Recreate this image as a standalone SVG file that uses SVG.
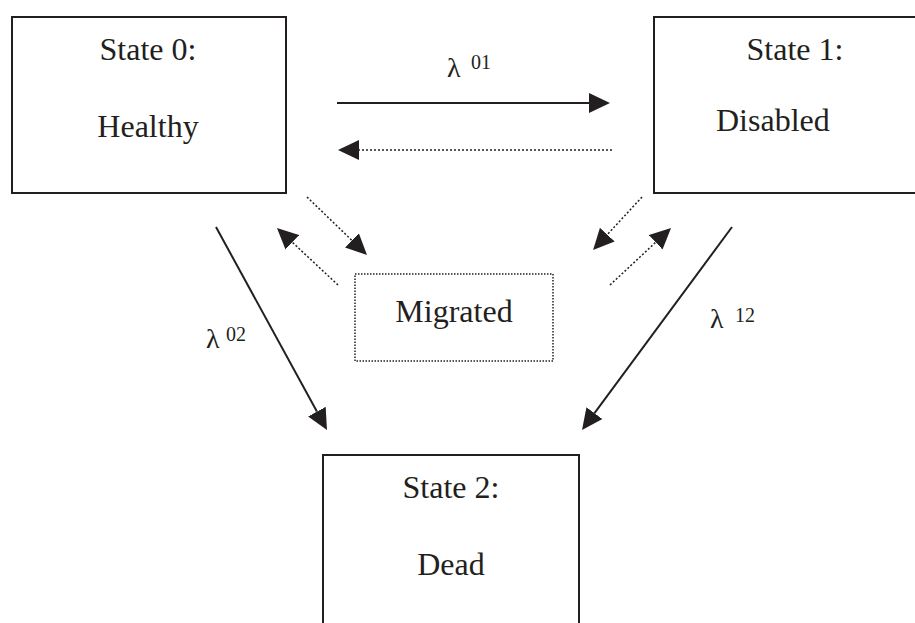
<svg xmlns="http://www.w3.org/2000/svg" width="915" height="623" viewBox="0 0 915 623">
<defs>
<style>
.box{fill:#fff;stroke:#231f20;stroke-width:2}
.mbox{fill:#fff;stroke:#231f20;stroke-width:1.5;stroke-dasharray:1.5 1.5}
.t{font-family:"Liberation Serif","Times New Roman",serif;font-size:32px;fill:#231f20}
.l{font-family:"Liberation Serif","Times New Roman",serif;font-size:28px;fill:#231f20}
.s{font-size:20px}
.solid{stroke:#231f20;stroke-width:2;fill:none;marker-end:url(#ah)}
.dot{stroke:#231f20;stroke-width:1.5;stroke-dasharray:2 2;fill:none;marker-end:url(#ah)}
</style>
<marker id="ah" markerUnits="userSpaceOnUse" markerWidth="22" markerHeight="20" refX="0" refY="10" orient="auto" viewBox="0 0 22 20">
<path d="M0,0 L21,10 L0,20 z" fill="#231f20"/>
</marker>
</defs>
<rect width="915" height="623" fill="#fff"/>
<g id="state0">
<rect class="box" x="12" y="17" width="274" height="176"/>
<text class="t" x="148" y="60" text-anchor="middle">State 0:</text>
<text class="t" x="148" y="137" text-anchor="middle">Healthy</text>
</g>
<g id="state1">
<rect class="box" x="654" y="17" width="280" height="176"/>
<text class="t" x="795" y="60" text-anchor="middle">State 1:</text>
<text class="t" x="716" y="131">Disabled</text>
</g>
<g id="migrated">
<rect class="mbox" x="355" y="274" width="198" height="87"/>
<text class="t" x="454" y="322" text-anchor="middle">Migrated</text>
</g>
<g id="state2">
<rect class="box" x="323" y="455" width="256" height="200"/>
<text class="t" x="451" y="498" text-anchor="middle">State 2:</text>
<text class="t" x="451" y="575" text-anchor="middle">Dead</text>
</g>
<g id="connectors">
<line class="solid" x1="337" y1="103" x2="589" y2="103"/>
<line class="dot" x1="612" y1="150" x2="359" y2="150"/>
<line class="dot" x1="307" y1="197" x2="351.9" y2="240.4"/>
<line class="dot" x1="338" y1="285" x2="292.3" y2="242.3"/>
<line class="dot" x1="642" y1="197" x2="607.3" y2="234.6"/>
<line class="dot" x1="610" y1="285" x2="655.7" y2="242.3"/>
<line class="solid" x1="216" y1="227" x2="316.9" y2="411.6"/>
<line class="solid" x1="732" y1="227" x2="594.5" y2="413.1"/>
<text class="l" x="447" y="77">λ<tspan class="s" x="471" y="69">01</tspan></text>
<text class="l" x="206" y="348">λ<tspan class="s" x="226" y="341">02</tspan></text>
<text class="l" x="710" y="328">λ<tspan class="s" x="735" y="322">12</tspan></text>
</g>
</svg>
